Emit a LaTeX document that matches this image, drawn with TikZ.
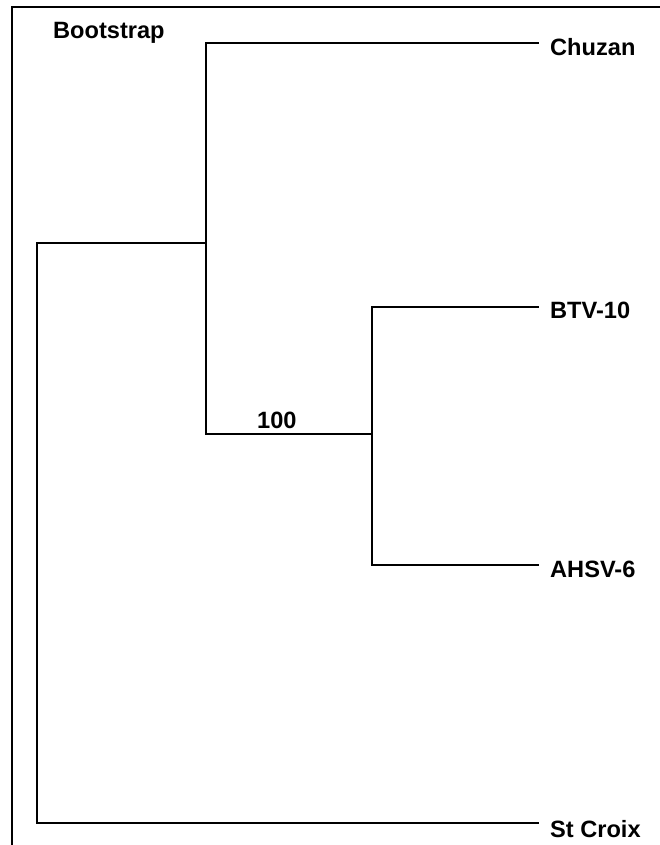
\documentclass[tikz,border=0pt]{standalone}
\usepackage{fontspec}
\setmainfont{Liberation Sans}
\begin{document}
\begin{tikzpicture}[x=1pt,y=-1pt,
  branch/.style={line width=2.2pt, line cap=rect},
  frame/.style={line width=2pt},
  taxon/.style={anchor=base west, inner sep=0pt, font=\fontsize{23.6}{28}\selectfont\bfseries},
  blabel/.style={anchor=base west, inner sep=0pt, font=\fontsize{23.6}{28}\selectfont\bfseries}]
\useasboundingbox (0,0) rectangle (660,845);
% frame (open on right and bottom)
\coordinate (fTL) at (11.5,7.5);
\coordinate (fTR) at (662,7.5);
\coordinate (fBL) at (11.5,847);
\draw[frame] (fTR) -- (fTL) -- (fBL);
% internal nodes
\coordinate (rootT) at (37,243);
\coordinate (rootB) at (37,823);
\coordinate (n1) at (206,243);
\coordinate (n1T) at (206,43);
\coordinate (n1B) at (206,434);
\coordinate (n2) at (372,434);
\coordinate (n2T) at (372,307);
\coordinate (n2B) at (372,565);
% tips
\coordinate (tChuzan) at (538,43);
\coordinate (tBTV) at (538,307);
\coordinate (tAHSV) at (538,565);
\coordinate (tStC) at (538,823);
% branches
\draw[branch] (tStC) -- (rootB) -- (rootT) -- (n1);
\draw[branch] (tChuzan) -- (n1T) -- (n1B) -- (n2);
\draw[branch] (tBTV) -- (n2T) -- (n2B) -- (tAHSV);
% labels
\node[taxon] (lChuzan) at (550,56) {Chuzan};
\node[taxon] (lBTV) at (550,318) {BTV-10};
\node[taxon] (lAHSV) at (550,577) {AHSV-6};
\node[taxon] (lStC) at (550,837) {St Croix};
\node[blabel] (lboot) at (53,39) {Bootstrap};
\node[blabel] (l100) at (257,428) {100};
\end{tikzpicture}
\end{document}
